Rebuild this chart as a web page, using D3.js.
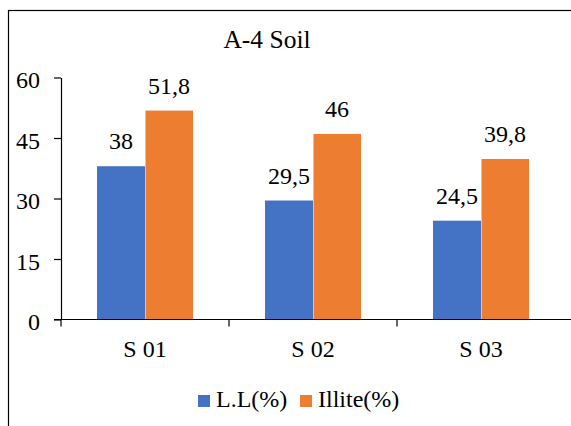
<!DOCTYPE html>
<html><head><meta charset="utf-8">
<script src="https://cdn.jsdelivr.net/npm/d3@7"></script>
<style>body{margin:0;background:#fff}svg{display:block}</style>
</head><body>
<svg id="c" width="571" height="426"></svg>
<script>
const categories = ["S 01", "S 02", "S 03"];
const seriesNames = ["L.L(%)", "Illite(%)"];
const llValues = [38, 29.5, 24.5];
const illiteValues = [51.8, 46, 39.8];
const yTicks = [0, 15, 30, 45, 60];
const colors = ["#4472C4", "#ED7D31"];
const font = "Liberation Serif";
const fs = 24;

const svg = d3.select("#c");
svg.append("rect").attr("x", 8.5).attr("y", 10.5).attr("width", 700).attr("height", 700)
  .attr("fill", "none").attr("stroke", "#000").attr("stroke-width", 1.2);

svg.append("text").attr("x", 267).attr("y", 48).attr("text-anchor", "middle")
  .style("font-family", font).attr("font-size", 25.5).text("A-4 Soil");

const x = d3.scaleBand().domain(categories).range([61, 565]).padding(0);
const xs = d3.scaleBand().domain(seriesNames).range([0, x.bandwidth()]).paddingInner(0).paddingOuter(0.75);
const y = d3.scaleLinear().domain([0, 60]).range([319.5, 77.5]);

const data = categories.map((c, i) => ({c, vals: [llValues[i], illiteValues[i]]}));

const g = svg.append("g");
data.forEach(d => {
  d.vals.forEach((v, j) => {
    g.append("rect").attr("x", x(d.c) + xs(seriesNames[j]) + (j ? 0.5 : 0)).attr("y", y(v))
      .attr("width", xs.bandwidth() - (j ? 0.5 : 0)).attr("height", y(0) - y(v)).attr("fill", colors[j]);
    g.append("text").attr("x", x(d.c) + xs(seriesNames[j]) + xs.bandwidth() / 2).attr("y", y(v) - 17)
      .attr("text-anchor", "middle").style("font-family", font).attr("font-size", fs)
      .text(String(v).replace(".", ","));
  });
});

// y axis
const yAxis = svg.append("g").attr("transform", "translate(61,0)")
  .call(d3.axisLeft(y).tickValues(yTicks).tickSize(7).tickSizeOuter(0).tickPadding(14));
yAxis.selectAll("text").style("font-family", font).attr("font-size", fs).attr("fill", "#000").attr("dy", "0.42em");
yAxis.selectAll("line,path").attr("stroke", "#000").attr("stroke-width", 1.2);

// x axis
const xAxis = svg.append("g").attr("transform", `translate(0,${y(0)})`);
xAxis.append("line").attr("x1", 54).attr("x2", 571).attr("stroke", "#000").attr("stroke-width", 1.2);
categories.forEach(c => {
  xAxis.append("line").attr("x1", x(c)).attr("x2", x(c)).attr("y1", 0).attr("y2", 7)
    .attr("stroke", "#000").attr("stroke-width", 1.2);
  xAxis.append("text").attr("x", x(c) + x.bandwidth() / 2).attr("y", 37.5).attr("text-anchor", "middle")
    .style("font-family", font).attr("font-size", fs).text(c);
});

// legend
const legendX = [198, 300];
seriesNames.forEach((s, j) => {
  svg.append("rect").attr("x", legendX[j]).attr("y", 395).attr("width", 12).attr("height", 12).attr("fill", colors[j]);
  svg.append("text").attr("x", legendX[j] + 18).attr("y", 407).style("font-family", font).attr("font-size", fs).text(s);
});
</script>
</body></html>
